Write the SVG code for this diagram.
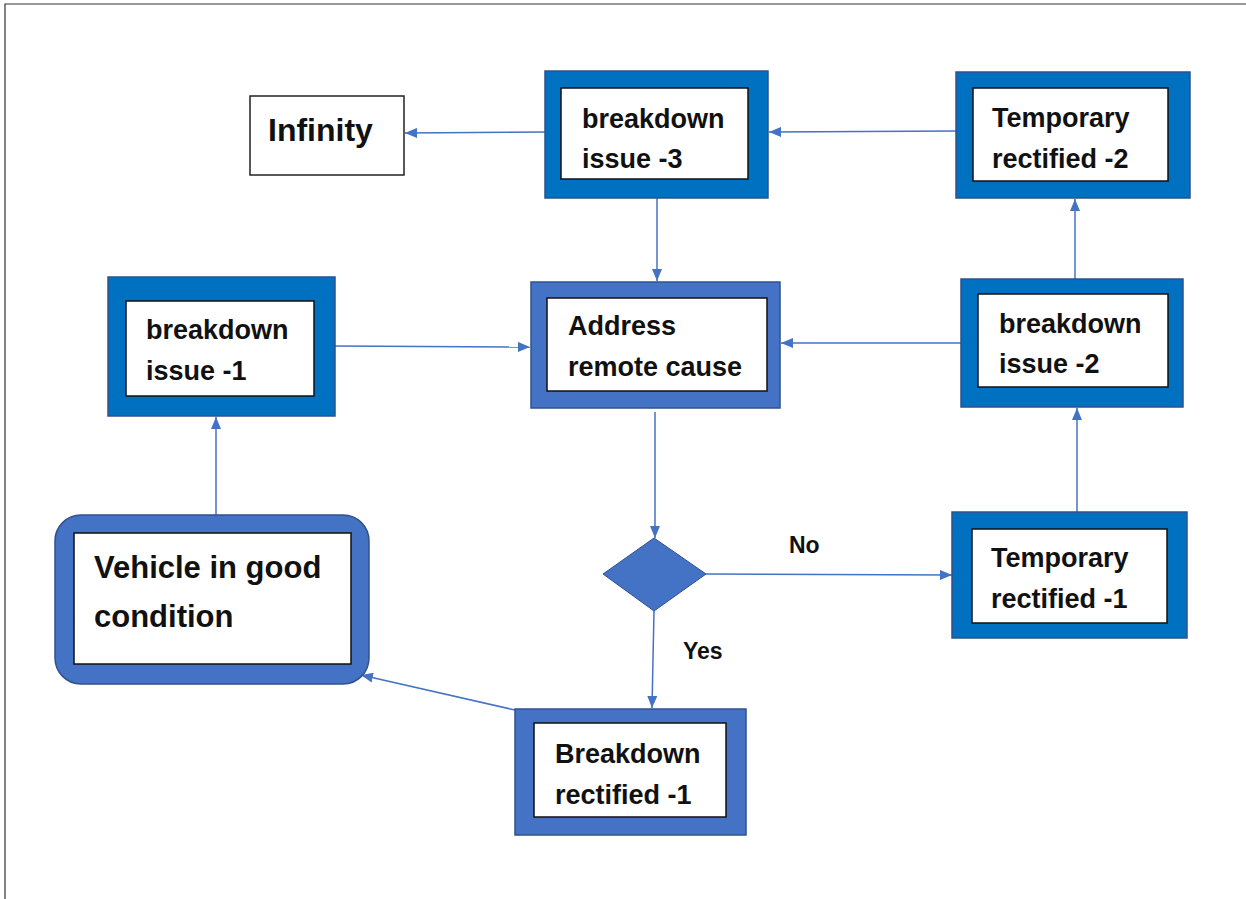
<svg xmlns="http://www.w3.org/2000/svg" width="1246" height="899" viewBox="0 0 1246 899">
<style>
.t{font-family:"Liberation Sans",Arial,sans-serif;font-weight:bold;fill:#111;}
.s{font-size:27px;}
.dk{fill:#0070C0;stroke:#2F528F;stroke-width:1.5;}
.lt{fill:#4472C4;stroke:#2F528F;stroke-width:1.5;}
.in{fill:#fff;stroke:#111;stroke-width:1.5;}
.c{stroke:#4472C4;stroke-width:1.5;fill:none;marker-end:url(#ah);}
</style>
<defs>
<marker id="ah" markerWidth="12" markerHeight="10" refX="12" refY="5" orient="auto" markerUnits="userSpaceOnUse">
<path d="M0,0 L12,5 L0,10 Z" fill="#4472C4"/>
</marker>
</defs>
<rect width="1246" height="899" fill="#fff"/>
<path d="M5,899 V4 H1246" fill="none" stroke="#333" stroke-width="1.2"/>
<g id="connectors">
<line class="c" x1="545" y1="132" x2="405" y2="133"/>
<line class="c" x1="956" y1="131" x2="769" y2="132"/>
<line class="c" x1="657" y1="198" x2="657" y2="281"/>
<line class="c" x1="335" y1="346" x2="530" y2="347"/>
<line class="c" x1="961" y1="343" x2="781" y2="343"/>
<line class="c" x1="1075" y1="279" x2="1075" y2="199"/>
<line class="c" x1="1077" y1="512" x2="1077" y2="408"/>
<line class="c" x1="655" y1="412" x2="655" y2="538"/>
<line class="c" x1="706" y1="574" x2="952" y2="575"/>
<line class="c" x1="654" y1="611" x2="652" y2="708"/>
<line class="c" x1="515" y1="710" x2="361" y2="675"/>
<line class="c" x1="216" y1="515" x2="216" y2="417"/>
</g>
<g id="infinity">
<rect x="250" y="96" width="154" height="79" fill="#fff" stroke="#222" stroke-width="1.5"/>
<text class="t" x="268" y="141" font-size="32">Infinity</text>
</g>
<g id="breakdown3">
<rect class="dk" x="545" y="71" width="223" height="127"/>
<rect class="in" x="561" y="88" width="187" height="91"/>
<text class="t s" x="582" y="128">breakdown</text>
<text class="t s" x="582" y="168">issue -3</text>
</g>
<g id="temp2">
<rect class="dk" x="956" y="72" width="234" height="126"/>
<rect class="in" x="973" y="88" width="195" height="93"/>
<text class="t s" x="992" y="127">Temporary</text>
<text class="t s" x="992" y="168">rectified -2</text>
</g>
<g id="breakdown1">
<rect class="dk" x="108" y="277" width="227" height="139"/>
<rect class="in" x="126" y="301" width="188" height="95"/>
<text class="t s" x="146" y="339">breakdown</text>
<text class="t s" x="146" y="380">issue -1</text>
</g>
<g id="address">
<rect class="lt" x="531" y="282" width="249" height="126"/>
<rect class="in" x="547" y="298" width="220" height="93"/>
<text class="t s" x="568" y="335">Address</text>
<text class="t s" x="568" y="376">remote cause</text>
</g>
<g id="breakdown2">
<rect class="dk" x="961" y="279" width="222" height="128"/>
<rect class="in" x="978" y="294" width="190" height="93"/>
<text class="t s" x="999" y="333">breakdown</text>
<text class="t s" x="999" y="373">issue -2</text>
</g>
<g id="decision">
<polygon points="654,538 706,574 654,611 603,574" fill="#4472C4" stroke="#2F528F" stroke-width="1"/>
<text class="t" x="789" y="553" font-size="23">No</text>
<text class="t" x="683" y="659" font-size="23">Yes</text>
</g>
<g id="temp1">
<rect class="dk" x="952" y="512" width="235" height="126"/>
<rect class="in" x="972" y="529" width="195" height="94"/>
<text class="t s" x="991" y="567">Temporary</text>
<text class="t s" x="991" y="608">rectified -1</text>
</g>
<g id="vehicle">
<rect class="lt" x="55" y="515" width="314" height="169" rx="26" ry="26"/>
<rect class="in" x="74" y="533" width="277" height="131"/>
<text class="t" x="94" y="578" font-size="31">Vehicle in good</text>
<text class="t" x="94" y="627" font-size="31">condition</text>
</g>
<g id="rectified1">
<rect class="lt" x="515" y="709" width="231" height="126"/>
<rect class="in" x="534" y="723" width="192" height="94"/>
<text class="t s" x="555" y="763">Breakdown</text>
<text class="t s" x="555" y="804">rectified -1</text>
</g>
</svg>
